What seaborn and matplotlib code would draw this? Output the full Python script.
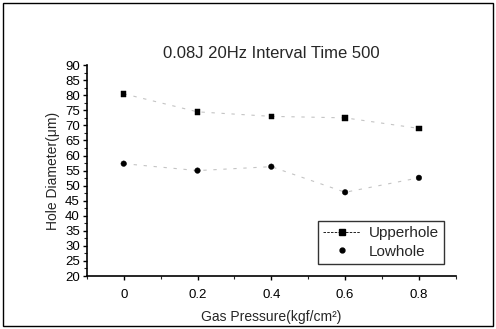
import matplotlib
matplotlib.use("Agg")
import matplotlib.pyplot as plt
from matplotlib.lines import Line2D
from matplotlib.patches import Rectangle
from matplotlib.ticker import MultipleLocator
import seaborn as sns
import pandas as pd

# data
pressure = [0.0, 0.2, 0.4, 0.6, 0.8]
upperhole = [80.5, 74.5, 73.0, 72.5, 69.0]
lowhole = [57.3, 55.0, 56.3, 47.8, 52.6]
xtick_labels = ["0", "0.2", "0.4", "0.6", "0.8"]

df = pd.DataFrame({"Gas Pressure": pressure + pressure,
                   "Hole Diameter": upperhole + lowhole,
                   "Series": ["Upperhole"] * 5 + ["Lowhole"] * 5})

sns.set_style("ticks")
plt.rcParams["font.family"] = ["Liberation Sans", "DejaVu Sans"]

fig = plt.figure(figsize=(4.96, 3.29), dpi=100)
ax = fig.add_axes([0.175, 0.161, 0.744, 0.641])

# faint broken connecting lines
sns.lineplot(data=df, x="Gas Pressure", y="Hole Diameter", units="Series",
             estimator=None, color="#c4c4c4", linestyle=(0, (3, 6)),
             linewidth=0.8, legend=False, ax=ax)
sns.scatterplot(data=df, x="Gas Pressure", y="Hole Diameter", style="Series",
                markers={"Upperhole": "s", "Lowhole": "o"}, color="black",
                s=16, edgecolor="black", legend=False, ax=ax, zorder=3)

ax.set_xlim(-0.1, 0.9)
ax.set_ylim(20, 90)
ax.set_xticks(pressure)
ax.set_xticklabels(xtick_labels)
ax.xaxis.set_minor_locator(MultipleLocator(0.1))
ax.yaxis.set_major_locator(MultipleLocator(5))
ax.yaxis.set_minor_locator(MultipleLocator(2.5))
ax.tick_params(which="major", direction="out", length=3, width=1, labelsize=9.5, colors="black", pad=2)
ax.tick_params(which="minor", direction="out", length=2, width=0.8)
ax.tick_params(axis="x", pad=6)
for side in ["top", "right"]:
    ax.spines[side].set_visible(False)
for side in ["left", "bottom"]:
    ax.spines[side].set_linewidth(1.2)
    ax.spines[side].set_color("black")

ax.set_title("0.08J 20Hz Interval Time 500", fontsize=12, pad=5)
ax.set_xlabel("Gas Pressure(kgf/cm\u00b2)", fontsize=10, labelpad=7)
ax.set_ylabel("Hole Diameter(\u03bcm)", fontsize=10, labelpad=4)

handles = [Line2D([], [], color="black", linestyle="--", linewidth=0.6,
                  dashes=(3, 1.5), marker="s", markersize=4, markerfacecolor="black"),
           Line2D([], [], color="black", linestyle="none",
                  marker="o", markersize=3.5, markerfacecolor="black")]
leg = ax.legend(handles, ["Upperhole", "Lowhole"], loc="lower right",
                bbox_to_anchor=(0.99, 0.02), fontsize=11, frameon=True,
                fancybox=False, handlelength=2.4, borderpad=0.35,
                labelspacing=0.3, handletextpad=0.6)
leg.get_frame().set_edgecolor("black")
leg.get_frame().set_linewidth(1.0)

# outer frame round the whole picture
fig.patches.append(Rectangle((0.006, 0.01), 0.988, 0.982, transform=fig.transFigure,
                             fill=False, edgecolor="black", linewidth=1.0))

fig.savefig("out.png", dpi=100)
